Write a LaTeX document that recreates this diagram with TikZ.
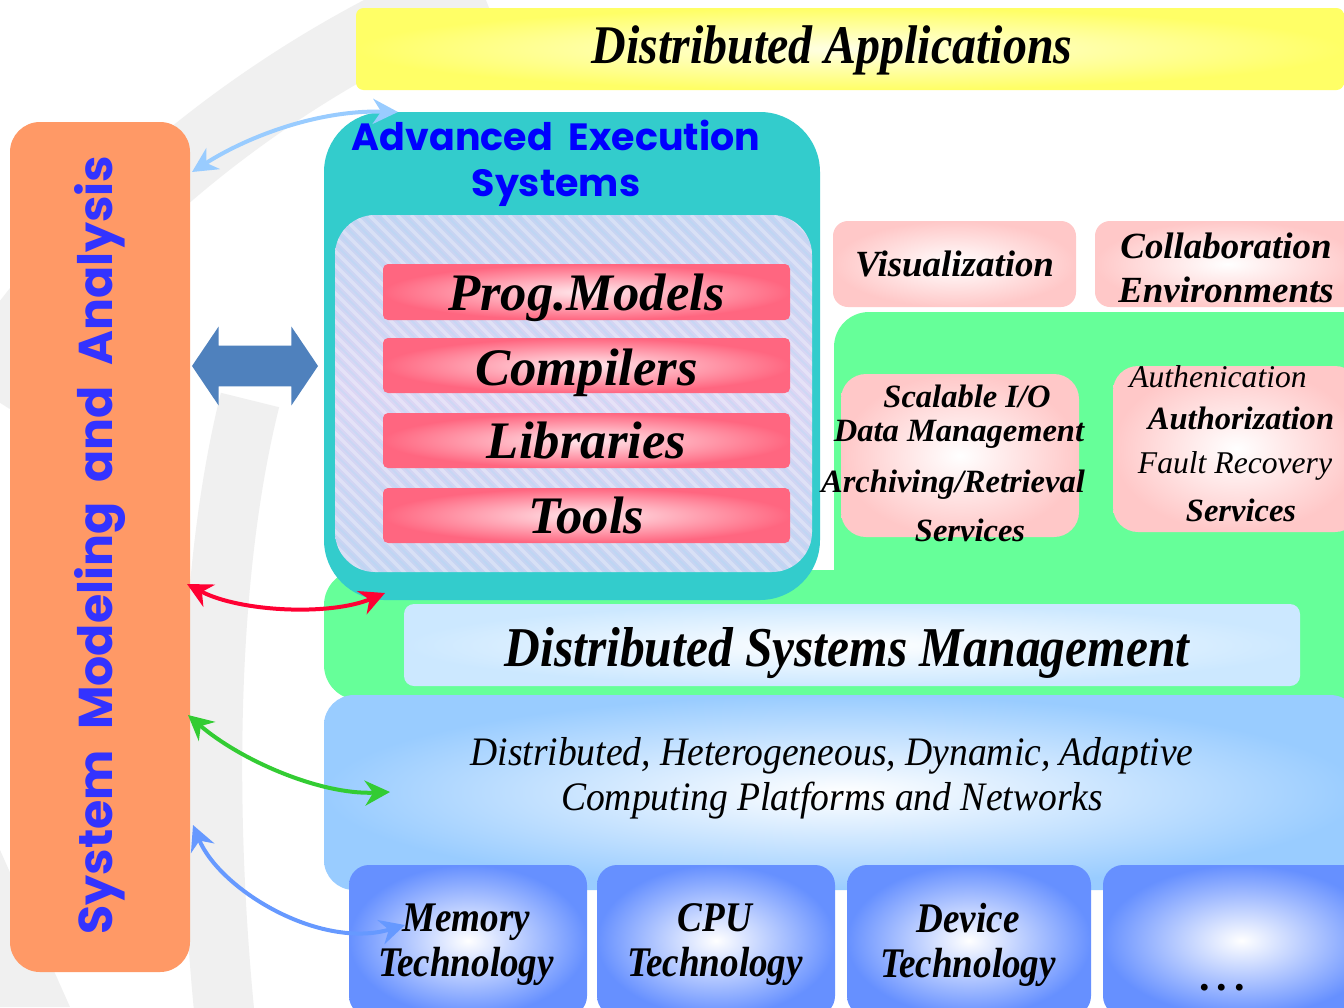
\documentclass[tikz,border=0pt]{standalone}
\usepackage{fontspec}
\setmainfont{Liberation Serif}
\newfontfamily\narrowserif[FakeStretch=0.88]{Liberation Serif}
\newfontfamily\platserif[FakeStretch=0.93]{Liberation Serif}
\newfontfamily\roundsans{Poppins}
\usetikzlibrary{shapes.arrows, arrows.meta, fit}

\definecolor{appsYellow}{HTML}{FFFF66}
\definecolor{appsLight}{HTML}{FFFFE6}
\definecolor{smaOrange}{HTML}{FF9966}
\definecolor{smaBlue}{HTML}{3333FF}
\definecolor{aesTeal}{HTML}{33CCCC}
\definecolor{aesBlue}{HTML}{0000FF}
\definecolor{toolRed}{HTML}{FF6680}
\definecolor{toolLight}{HTML}{FFE8EC}
\definecolor{svcPink}{HTML}{FFC8C8}
\definecolor{mwGreen}{HTML}{66FF99}
\definecolor{dsmBlue}{HTML}{CCE8FF}
\definecolor{platBlue}{HTML}{99CCFF}
\definecolor{techBlue}{HTML}{6690FF}
\definecolor{linkBlue}{HTML}{4F81BD}
\definecolor{wmGray}{HTML}{F0F0F0}
\definecolor{arcSky}{HTML}{99CCFF}
\definecolor{arcRed}{HTML}{FF0033}
\definecolor{arcGreen}{HTML}{33CC33}
\definecolor{arcBlue}{HTML}{6699FF}
\definecolor{texA}{HTML}{C6D4F2}
\definecolor{texB}{HTML}{DDD6F4}

\begin{document}
\begin{tikzpicture}[x=0.2mm, y=-0.2mm,
        layer/.style={rectangle, inner sep=0pt, rounded corners=2mm},
        appsbar/.style={layer, rounded corners=1.5mm, inner color=appsLight, outer color=appsYellow},
        sma/.style={layer, rounded corners=6mm, fill=smaOrange},
        aes/.style={layer, rounded corners=12mm, fill=aesTeal},
        texture/.style={layer, rounded corners=8mm, shading angle=135, top color=texA, bottom color=texA, middle color=texB},
        tool/.style={layer, rounded corners=1mm, inner color=toolLight, outer color=toolRed},
        tooltext/.style={anchor=base, font=\bfseries\itshape\fontsize{30}{34}\selectfont},
        svc/.style={layer, rounded corners=3mm, inner color=white, outer color=svcPink},
        svctext/.style={align=center, font=\bfseries\itshape\fontsize{21}{25}\selectfont},
        mw/.style={layer, rounded corners=7mm, fill=mwGreen},
        dsm/.style={layer, rounded corners=2mm, inner color=white, outer color=dsmBlue},
        plat/.style={layer, rounded corners=6mm, inner color=white, outer color=platBlue},
        tech/.style={layer, rounded corners=4mm, inner color=white, outer color=techBlue},
        techtext/.style={align=center, font=\narrowserif\bfseries\itshape\fontsize{24}{25.6}\selectfont},
        line/.style={font=\bfseries\itshape\fontsize{18.5}{20}\selectfont},
        lineplain/.style={font=\itshape\fontsize{18}{20}\selectfont},
        link/.style={line width=0.8mm, {Stealth[length=5mm, width=5mm]}-{Stealth[length=5mm, width=5mm]}}
    ]
    \clip (0,0) rectangle (1344,1007);
    \fill[white] (0,0) rectangle (1344,1007);

    % watermark
    \draw[wmGray, line width=14mm] (480,-15) .. controls (340,40) and (120,170) .. (-20,390);
    \draw[wmGray, line width=12mm] (250,400) .. controls (205,580) and (205,820) .. (225,1020);
    \fill[wmGray] (0,850) -- (70,1007) -- (0,1007) -- cycle;

    % top
    \node[appsbar, fit={(356,8) (1344,90)}] (apps) {};
    \node[font=\narrowserif\bfseries\itshape\fontsize{31}{36}\selectfont] (appstxt) at (832,50) {Distributed Applications};

    % left column
    \node[sma, fit={(10,122) (190,972)}] (sma) {};
    \node[rotate=90, text=smaBlue, font=\roundsans\bfseries\fontsize{27}{32}\selectfont] (smatxt) at (100,545)
        {System\ \ Modeling\ \ and\ \ Analysis};

    % middleware (green)
    \node[mw, fit={(834,312) (1400,700)}] (mwtop) {};
    \node[mw, fit={(324,570) (1400,700)}] (mwlow) {};

    % execution systems
    \node[aes, fit={(324,112) (820,600)}] (aes) {};
    \node[text=aesBlue, align=center, font=\roundsans\bfseries\fontsize{21.6}{26}\selectfont] (aestxt) at (556,163)
        {Advanced\ \ Execution\\Systems};
    \node[texture, fit={(335,215) (812,572)}] (tex) {};
    \begin{scope}
        \clip[rounded corners=8mm] (335,215) rectangle (812,572);
        \foreach \s in {-400,-386,...,480} {
            \draw[white, opacity=0.3, line width=0.7mm] (335+\s,215) -- ++(360,360);
            \draw[cyan!40, opacity=0.2, line width=0.4mm] (342+\s,215) -- ++(360,360);
        }
    \end{scope}
    \node[tool, fit={(383,264) (790,320)}] (models) {};
    \node[tool, fit={(383,338) (790,393)}] (compilers) {};
    \node[tool, fit={(383,413) (790,468)}] (libraries) {};
    \node[tool, fit={(383,488) (790,543)}] (tools) {};
    \node[tooltext] (modelstxt) at ([yshift=2mm]models.south) {Prog.Models};
    \node[tooltext] (compilerstxt) at ([yshift=1.6mm]compilers.south) {Compilers};
    \node[tooltext] (librariestxt) at ([yshift=2mm]libraries.south) {Libraries};
    \node[tooltext] (toolstxt) at ([yshift=2mm]tools.south) {Tools};

    % services
    \node[svc, fit={(833,221) (1076,307)}] (vis) {};
    \node[svctext] (vistxt) at (vis) {Visualization};
    \node[svc, fit={(1095,221) (1360,307)}] (collab) {};
    \node[svctext] (collabtxt) at (1226,268) {Collaboration\\Environments};
    \node[svc, rounded corners=5mm, fit={(841,374) (1079,537)}] (io) {};
    \node[line] (io1) at (967,396) {Scalable I/O};
    \node[line] (io2) at (959,434) {Data Management};
    \node[line] (io3) at (953,485) {Archiving/Retrieval};
    \node[line] (io4) at (970,530) {Services};
    \node[svc, rounded corners=5mm, fit={(1113,366) (1360,532)}] (auth) {};
    \node[lineplain] (auth1) at (1218,377) {Authenication};
    \node[line] (auth2) at (1241,418) {Authorization};
    \node[lineplain] (auth3) at (1235,466) {Fault Recovery};
    \node[line] (auth4) at (1241,510) {Services};

    \node[dsm, fit={(404,604) (1300,686)}] (dsm) {};
    \node[font=\narrowserif\bfseries\itshape\fontsize{32}{36}\selectfont] (dsmtxt) at (847,653) {Distributed Systems Management};

    % platforms
    \node[plat, fit={(324,695) (1360,890)}] (plat) {};
    \node[align=center, font=\platserif\itshape\fontsize{23}{25.6}\selectfont] (plattxt) at (832,778)
        {Distributed, Heterogeneous, Dynamic, Adaptive\\Computing Platforms and Networks};

    \node[tech, fit={(349,865) (587,1016)}] (memory) {};
    \node[tech, fit={(597,865) (835,1016)}] (cpu) {};
    \node[tech, fit={(847,865) (1091,1016)}] (device) {};
    \node[tech, fit={(1103,865) (1380,1016)}] (more) {};
    \node[techtext] (memorytxt) at (466,945) {Memory\\Technology};
    \node[techtext] (cputxt) at (715,945) {CPU\\Technology};
    \node[techtext] (devicetxt) at (968,945) {Device\\Technology};
    \node[font=\bfseries\fontsize{24}{24}\selectfont] (moretxt) at (1222,988) {.\,.\,.};

    % links
    \node[double arrow, fill=linkBlue, inner xsep=0pt, inner ysep=4mm, minimum height=25.2mm,
        double arrow head extend=3.8mm, double arrow tip angle=112] (aeslink) at (255,366) {};

    \coordinate (skyA) at (192,172);
    \coordinate (skyB) at (398,112);
    \coordinate (redA) at (187,584);
    \coordinate (redB) at (385,593);
    \coordinate (greenA) at (188,715);
    \coordinate (greenB) at (390,792);
    \coordinate (blueA) at (193,825);
    \coordinate (blueB) at (405,925);

    \draw[link, arcSky] (skyA) .. controls (250,135) and (320,110) .. (skyB);
    \draw[link, arcRed] (redA) .. controls (240,612) and (330,616) .. (redB);
    \draw[link, arcGreen] (greenA) .. controls (240,760) and (320,795) .. (greenB);
    \draw[link, arcBlue] (blueA) .. controls (220,890) and (320,950) .. (blueB);
\end{tikzpicture}
\end{document}
